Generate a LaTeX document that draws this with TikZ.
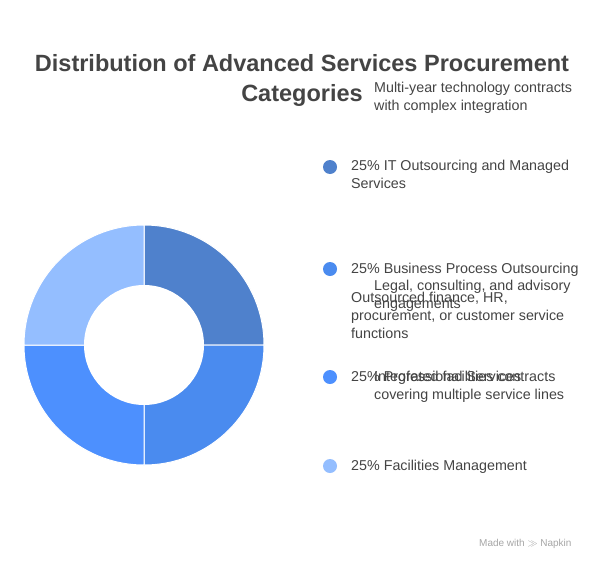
\documentclass[tikz,border=0pt]{standalone}
\usepackage{fontspec}
\setmainfont{Liberation Sans}
\definecolor{cA}{HTML}{4F81CC}
\definecolor{cB}{HTML}{4A8BEF}
\definecolor{cC}{HTML}{4D90FE}
\definecolor{cD}{HTML}{94BEFF}
\definecolor{txt}{HTML}{444444}
\begin{document}
\begin{tikzpicture}[x=1pt,y=-1pt,
  lg/.style={anchor=base west,inner sep=0,align=left,text=txt,font=\fontsize{14.3}{18}\selectfont},
  dot/.style={circle,inner sep=0,minimum size=14pt}]
\useasboundingbox[fill=white] (0,0) rectangle (612,570);
\node[inner sep=0,align=center,text=txt,font=\bfseries\fontsize{23.5}{30}\selectfont,anchor=base] (t) at (302,101) {Distribution of Advanced Services Procurement\\Categories};
% donut
\foreach \a/\b/\c in {-90/0/cA,0/90/cB,90/180/cC,180/270/cD}{
  \fill[\c,draw=white,line width=1pt] (144,345) -- ++(\a:120) arc[start angle=\a,end angle=\b,radius=120] -- cycle;}
\fill[white] (144,345) circle[radius=60];
\node[dot,fill=cA] (d1) at (330,167) {};
\node[dot,fill=cB] (d2) at (330,269) {};
\node[dot,fill=cC] (d3) at (330,377) {};
\node[dot,fill=cD] (d4) at (330,466) {};
\node[lg] (m1) at (374,110) {Multi-year technology contracts\\with complex integration};
\node[lg] (l1) at (351,188) {25\% IT Outsourcing and Managed\\Services};
\node[lg] (l2) at (351,273) {25\% Business Process Outsourcing};
\node[lg] (m3) at (374,308) {Legal, consulting, and advisory\\engagements};
\node[lg] (m2) at (351,338) {Outsourced finance, HR,\\procurement, or customer service\\functions};
\node[lg] (l3) at (351,381) {25\% Professional Services};
\node[lg] (m4) at (374,399) {Integrated facilities contracts\\covering multiple service lines};
\node[lg] (l4) at (351,470) {25\% Facilities Management};
\node[anchor=base west,inner sep=0,text=black!35,font=\fontsize{10}{12}\selectfont] (n) at (479,546) {Made with \raisebox{0pt}{$\gg$} Napkin};
\end{tikzpicture}
\end{document}
